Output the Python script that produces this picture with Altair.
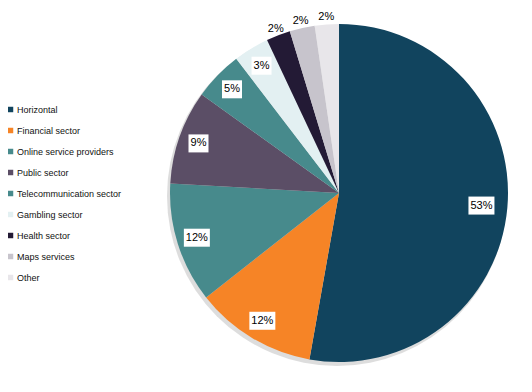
import altair as alt
import pandas as pd

categories = ["Horizontal", "Financial sector", "Online service providers", "Public sector",
              "Telecommunication sector", "Gambling sector", "Health sector", "Maps services", "Other"]
values = [52.8, 11.6, 11.5, 9.0, 4.7, 3.4, 2.3, 2.4, 2.3]
labels = ["53%", "12%", "12%", "9%", "5%", "3%", "2%", "2%", "2%"]
colors = ["#11445e", "#f68426", "#478a8c", "#5b4e66", "#478a8c", "#e3f0f2", "#231a35", "#c7c4cc", "#e8e6ea"]

df = pd.DataFrame({"cat": categories, "value": values, "label": labels, "i": list(range(len(categories)))})

CX, CY, R = 331, 185, 169

base = alt.Chart(df)

shadow = alt.Chart(df).mark_arc(radius=R + 1, theta=0, theta2=6.2832, color="#d4d4d4", opacity=0.8).encode(
    x=alt.value(CX - 2), y=alt.value(CY + 3)
).transform_filter("datum.i == 0")

pie = base.mark_arc(radius=R, stroke=None).encode(
    theta=alt.Theta("value:Q", stack=True),
    order=alt.Order("i:Q"),
    color=alt.Color("cat:N", scale=alt.Scale(domain=categories, range=colors), sort=None,
                    legend=alt.Legend(title=None, orient="none", legendX=-2, legendY=97,
                                      symbolType="square", symbolSize=30, symbolStrokeWidth=0,
                                      labelFont="Liberation Sans", labelFontSize=9, labelColor="#111",
                                      rowPadding=11, labelOffset=2, padding=0)),
    x=alt.value(CX), y=alt.value(CY),
)

pos = base.transform_joinaggregate(total="sum(value)").transform_window(
    cum="sum(value)", sort=[alt.SortField("i")], frame=[None, 0]
).transform_calculate(
    lr="datum.value > 50 ? 143 : (datum.value > 3 ? 149 : 176)",
    a="2*PI*(datum.cum - datum.value/2)/datum.total",
).transform_calculate(
    px=f"{CX} + datum.lr*sin(datum.a)",
    py=f"{CY} - datum.lr*cos(datum.a)",
    w="length(datum.label) > 2 ? 13 : 10",
)

boxes = pos.transform_filter("datum.value > 3").transform_calculate(
    x1="datum.px - datum.w", x2="datum.px + datum.w", y1="datum.py - 9", y2="datum.py + 9"
).mark_rect(color="white").encode(
    x=alt.X("x1:Q", scale=None, axis=None), x2="x2:Q",
    y=alt.Y("y1:Q", scale=None, axis=None), y2="y2:Q",
)

texts = pos.mark_text(font="Liberation Sans", fontSize=11, color="black", align="center", baseline="middle").encode(
    x=alt.X("px:Q", scale=None, axis=None),
    y=alt.Y("py:Q", scale=None, axis=None),
    text="label:N",
)

chart = alt.layer(shadow, pie, boxes, texts).properties(
    width=516, height=376, autosize=alt.AutoSizeParams(type="none"), padding=0
).configure_view(stroke=None)

chart.save("out.html", embed_options={"renderer": "svg", "actions": False})
